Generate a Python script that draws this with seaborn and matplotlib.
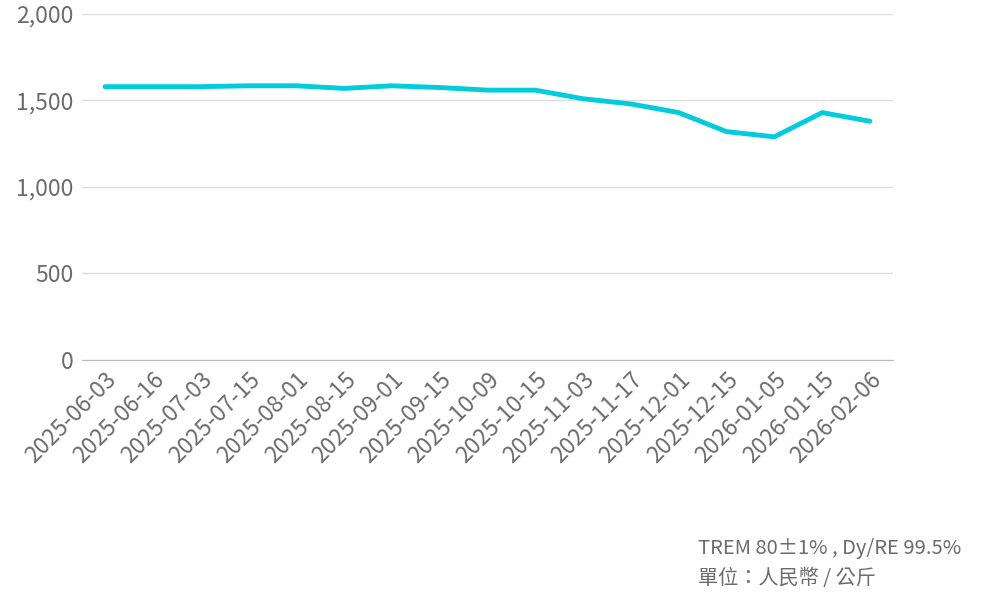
import matplotlib
matplotlib.use('Agg')
import matplotlib.pyplot as plt
import pandas as pd
import seaborn as sns

dates = ['2025-06-03', '2025-06-16', '2025-07-03', '2025-07-15', '2025-08-01',
         '2025-08-15', '2025-09-01', '2025-09-15', '2025-10-09', '2025-10-15',
         '2025-11-03', '2025-11-17', '2025-12-01', '2025-12-15', '2026-01-05',
         '2026-01-15', '2026-02-06']
prices = [1580, 1580, 1580, 1585, 1585, 1570, 1585, 1575, 1560, 1560,
          1510, 1480, 1430, 1320, 1290, 1430, 1380]

sns.set_style('white')
plt.rcParams['font.family'] = ['Noto Sans CJK TC', 'DejaVu Sans']

df = pd.DataFrame({'date': dates, 'price': prices, 'idx': range(len(dates))})

fig = plt.figure(figsize=(10.01, 6.10), dpi=100)
ax = fig.add_axes([0.082, 0.41, 0.81, 0.567])
sns.lineplot(data=df, x='idx', y='price', ax=ax, color='#00CCDD', linewidth=3.5)

grey = '#6b6b6b'
ax.set_ylim(0, 2000)
ax.set_yticks([0, 500, 1000, 1500, 2000])
ax.set_yticklabels(['0', '500', '1,000', '1,500', '2,000'])
ax.set_xlim(-0.48, len(dates) - 0.52)
ax.set_xticks(range(len(dates)))
ax.set_xticklabels(dates, rotation=45, ha='right', rotation_mode='anchor')
ax.tick_params(axis='both', labelsize=16.5, colors=grey, length=0, pad=6)
ax.grid(axis='y', color='#dddddd', linewidth=1)
for s in ['top', 'right', 'left']:
    ax.spines[s].set_visible(False)
ax.spines['bottom'].set_color('#bbbbbb')
ax.set_xlabel('')
ax.set_ylabel('')

fig.text(0.697, 0.092, 'TREM 80±1% , Dy/RE 99.5%', fontsize=14.5, color=grey)
fig.text(0.697, 0.043, '單位：人民幣 / 公斤', fontsize=14.5, color=grey)

fig.savefig('out.png', dpi=100)
